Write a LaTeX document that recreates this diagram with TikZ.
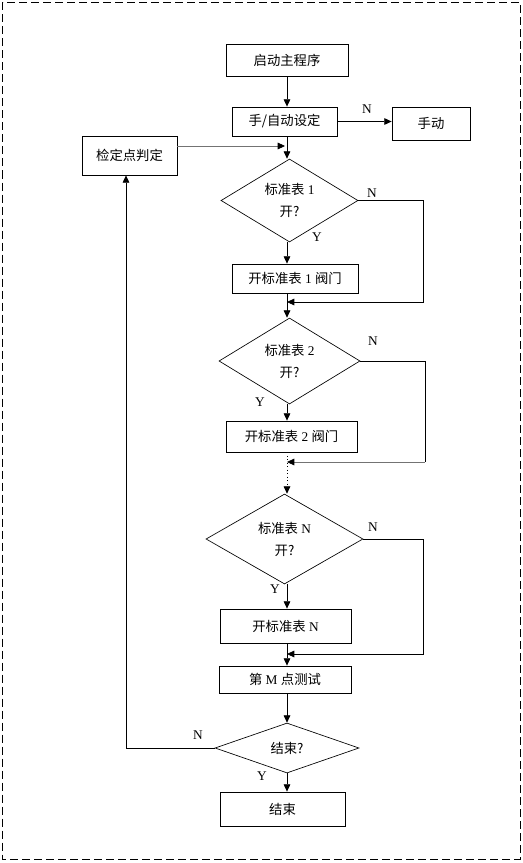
\documentclass[tikz,border=0pt]{standalone}
\usepackage{fontspec}
\setmainfont{Liberation Serif}
\newfontfamily\cjk{Noto Sans CJK SC}
\usetikzlibrary{shapes.geometric,arrows.meta}

\begin{document}
\begin{tikzpicture}[x=0.75pt,y=-0.75pt,
    font=\fontsize{10}{13}\selectfont,
    box/.style={draw,line width=0.6pt,inner sep=0pt},
    dia/.style={draw,diamond,aspect=1.6,line width=0.5pt,inner sep=0pt,
      align=center,font=\fontsize{10}{16.5}\selectfont},
    arr/.style={line width=0.6pt,-{Triangle[length=5.5pt,width=5pt,color=black]}},
    lbl/.style={inner sep=0pt}]
    \useasboundingbox (0,0) rectangle (523,863);
    \draw[dash pattern=on 6pt off 3pt,line width=0.6pt] (2.5,2.5) rectangle (520,859);
    \coordinate (spine) at (287,0);
    \node[box,minimum width=91.5pt,minimum height=24pt] (start) at (287,60) {\cjk 启动主程序};
    \node[box,minimum width=78.75pt,minimum height=21.75pt] (mode) at (284.5,121.5) {\cjk 手/自动设定};
    \node[box,minimum width=58.5pt,minimum height=24.75pt] (manual) at (431,123.5) {\cjk 手动};
    \node[box,minimum width=71.25pt,minimum height=29.25pt] (judge) at (129.5,155.5) {\cjk 检定点判定};
    \node[dia,minimum width=102.75pt,minimum height=62.25pt] (d1) at (289.5,200.5) {{\cjk 标准表} 1\\{\cjk 开?}};
    \node[box,minimum width=94.5pt,minimum height=21.75pt] (v1) at (295,278.5) {{\cjk 开标准表} 1 {\cjk 阀门}};
    \node[dia,minimum width=105.75pt,minimum height=64.5pt] (d2) at (289.5,361) {{\cjk 标准表} 2\\{\cjk 开?}};
    \node[box,minimum width=98.25pt,minimum height=23.25pt] (v2) at (291.5,436.5) {{\cjk 开标准表} 2 {\cjk 阀门}};
    \node[dia,minimum width=117.75pt,minimum height=67.5pt] (dn) at (284.5,539) {{\cjk 标准表} N\\{\cjk 开?}};
    \node[box,minimum width=98.25pt,minimum height=25.5pt] (vn) at (285.5,626) {{\cjk 开标准表} N};
    \node[box,minimum width=99pt,minimum height=20.25pt] (test) at (285,679.5) {{\cjk 第} M {\cjk 点测试}};
    \node[dia,minimum width=108pt,minimum height=37.5pt] (dend) at (287,748) {\cjk 结束?};
    \node[box,minimum width=93.75pt,minimum height=25.5pt] (stop) at (282.5,809) {\cjk 结束};
    \coordinate (jin) at (285,146);
    \coordinate (r1) at (423,302);
    \coordinate (r2) at (425,462);
    \coordinate (rn) at (423,654);
    \coordinate (loop) at (126,748);
    \coordinate (dot) at (287,490);
    \draw[arr] (spine |- start.south) -- (spine |- mode.north);
    \draw[arr] (mode.east) -- (mode.east -| manual.west);
    \draw[line width=0.6pt] (spine |- mode.south) -- (spine |- jin);
    \draw[arr] (spine |- jin) -- (spine |- d1.north);
    \draw[arr,draw=black!55] (judge.east |- jin) -- (jin);
    \draw[arr] (spine |- d1.south) -- (spine |- v1.north);
    \draw[arr] (d1.east) -| (r1) -- (spine |- r1);
    \draw[arr] (spine |- v1.south) -- (spine |- d2.north);
    \draw[line width=0.6pt] (d2.east) -| (r2);
    \draw[arr,draw=black!55] (r2) -- (spine |- r2);
    \draw[arr] (spine |- d2.south) -- (spine |- v2.north);
    \draw[line width=0.6pt,dotted] (spine |- v2.south) -- (dot);
    \draw[arr] (dot) -- (spine |- dn.north);
    \draw[arr] (spine |- dn.south) -- (spine |- vn.north);
    \draw[arr] (dn.east) -| (rn) -- (spine |- rn);
    \draw[arr] (spine |- vn.south) -- (spine |- test.north);
    \draw[arr] (spine |- test.south) -- (spine |- dend.north);
    \draw[arr] (spine |- dend.south) -- (spine |- stop.north);
    \draw[arr] (dend.west) -- (loop) -- (loop |- judge.south);
    \node[lbl] (n0) at (367,109) {N};
    \node[lbl] (n1) at (372,193) {N};
    \node[lbl] (y1) at (317,237) {Y};
    \node[lbl] (n2) at (373,341) {N};
    \node[lbl] (y2) at (260,402) {Y};
    \node[lbl] (nn) at (373,527) {N};
    \node[lbl] (yn) at (275,589) {Y};
    \node[lbl] (ne) at (198,735) {N};
    \node[lbl] (ye) at (262,776) {Y};
  \end{tikzpicture}
\end{document}
